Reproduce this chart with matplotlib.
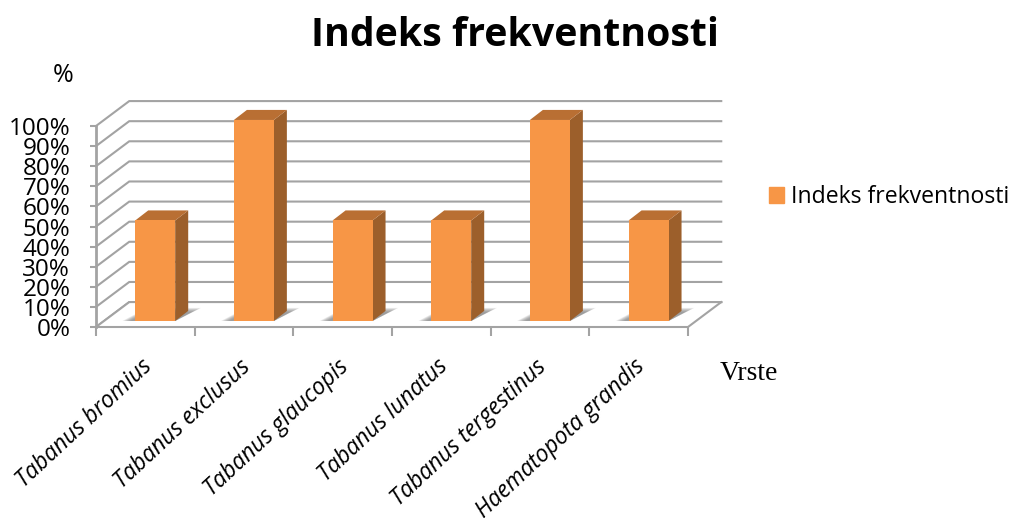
import matplotlib
matplotlib.use("Agg")
import matplotlib.pyplot as plt
from matplotlib.patches import Patch
from matplotlib.transforms import ScaledTranslation

species = ["Tabanus bromius", "Tabanus exclusus", "Tabanus glaucopis",
           "Tabanus lunatus", "Tabanus tergestinus", "Haematopota grandis"]
values = [50, 100, 50, 50, 100, 50]
y_ticks = [0, 10, 20, 30, 40, 50, 60, 70, 80, 90, 100]
series_name = "Indeks frekventnosti"

W, H = 1013, 526
LINE = "#a3a3a3"
FRONT = "#f79646"
TOP = "#b96f33"
SIDE = "#9c5f2b"

# depth of the fake 3D box, in data units
DX = 0.337
DY = 12.4

plt.rcParams["font.family"] = ["Open Sans", "DejaVu Sans"]

fig = plt.figure(figsize=(W / 100, H / 100), dpi=100)
ax = fig.add_axes([96 / W, 1 - 327 / H, (688 - 96) / W, (327 - 126) / H])
ax.set_xlim(-0.5, 5.5)
ax.set_ylim(0, 100)
for s in ax.spines.values():
    s.set_visible(False)
ax.patch.set_visible(False)

# back wall, side wall
for v in y_ticks:
    ax.plot([-0.5, -0.5 + DX, 5.5 + DX], [v, v + DY, v + DY],
            color=LINE, lw=1.5, clip_on=False, zorder=1, solid_joinstyle="miter")
# floor, white so the grid does not show through it
ax.fill([-0.5, 5.5, 5.5 + DX, -0.5 + DX], [0, 0, DY, DY], color="white", lw=0, clip_on=False, zorder=1.5)
ax.plot([-0.5, -0.5 + DX, 5.5 + DX], [0, DY, DY], color=LINE, lw=1.5, clip_on=False, zorder=1.6)
ax.plot([-0.5, 5.5, 5.5 + DX], [0, 0, DY], color=LINE, lw=1.5, clip_on=False, zorder=2)
ax.plot([-0.5, -0.5], [0, 100], color=LINE, lw=2, clip_on=False, zorder=2)

# bars
w = 0.405
off_x = 0.1
base = 3
dx = 0.132
dy = 5
for i, v in enumerate(values):
    l = i + off_x - w / 2
    r = l + w
    # floor shadow, darker close to the bar
    for k in range(8):
        ax.fill([l - 0.13 + k * 0.012, r, r + dx + 0.13 - k * 0.014, l + 0.12],
                [base, base, base + dy + 1.5 - k * 0.3, base + dy + 1.5 - k * 0.3],
                color="#707070", alpha=0.13, lw=0, clip_on=False, zorder=2)
    ax.bar(i + off_x, v, width=w, bottom=base, color=FRONT, lw=0, zorder=4, clip_on=False)
    top = base + v
    ax.fill([r, r + dx, r + dx, r], [base, base + dy, top + dy, top],
            color=SIDE, lw=0, clip_on=False, zorder=3)
    ax.fill([l, l + dx, r + dx, r], [top, top + dy, top + dy, top],
            color=TOP, lw=0, clip_on=False, zorder=3)

ax.set_yticks(y_ticks)
ax.set_yticklabels([f"{v}%" for v in y_ticks], fontsize=17.5, color="black")
ax.tick_params(axis="y", length=4.5, width=1.5, color=LINE, pad=14)
down = ScaledTranslation(0, -3 / 100, fig.dpi_scale_trans)
for t in ax.get_yticklabels():
    t.set_verticalalignment("center")
    t.set_transform(t.get_transform() + down)

ax.set_xticks([i - 0.5 for i in range(7)])
ax.set_xticklabels([])
ax.tick_params(axis="x", which="major", length=6.5, width=1.5, color=LINE)
ax.set_xticks([i - 0.05 for i in range(6)], minor=True)
ax.set_xticklabels(species, minor=True, rotation=43, ha="right", rotation_mode="anchor",
                   fontsize=16.5, style="italic", color="black")
ax.tick_params(axis="x", which="minor", length=0, pad=20)

fig.text(515 / W, 1 - 35 / H, series_name, ha="center", va="center",
         fontsize=28.3, fontweight="bold", color="black")
fig.text(63 / W, 1 - 75 / H, "%", ha="center", va="center", fontsize=18, color="black")
fig.text(749 / W, 1 - 373 / H, "Vrste", ha="center", va="center", fontsize=20,
         family="Liberation Serif", color="black")

fig.legend(handles=[Patch(color=FRONT, label=series_name)], frameon=False,
           loc="center left", bbox_to_anchor=(769 / W, 1 - 197 / H), fontsize=16.6,
           handlelength=0.65, handleheight=0.65, handletextpad=0.32, borderpad=0, borderaxespad=0)

fig.savefig("out.png", dpi=100)
